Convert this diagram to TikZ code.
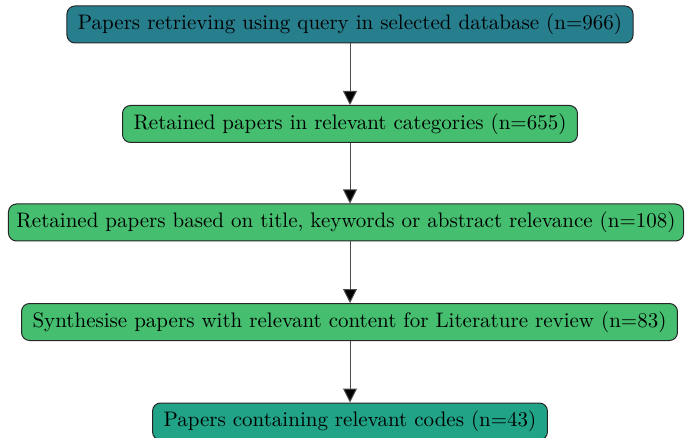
\documentclass[tikz,border=0pt]{standalone}
\usetikzlibrary{arrows.meta}
\definecolor{cteal}{HTML}{277F8E}
\definecolor{cgreen}{HTML}{45BF6F}
\definecolor{cjade}{HTML}{20A386}
\tikzset{
  box/.style={draw=black!85, line width=0.5pt, rounded corners=4pt, minimum height=18.5pt, inner xsep=5.5pt, font=\fontsize{10.5}{12}\selectfont},
  conn/.style={draw=black!70, line width=0.5pt, -{Triangle[width=7pt,length=7pt,fill=black]}},
}
\begin{document}
\begin{tikzpicture}[x=0.5pt,y=-0.5pt]
\useasboundingbox (0,0) rectangle (685,438);
\node[box, fill=cteal] (a) at (350,24.5) {Papers retrieving using query in selected database (n=966)};
\node[box, fill=cgreen] (b) at (350,124) {Retained papers in relevant categories (n=655)};
\node[box, fill=cgreen, inner xsep=4pt] (c) at (346,222.5) {Retained papers based on title, keywords or abstract relevance (n=108)};
\node[box, fill=cgreen] (d) at (349.5,322) {Synthesise papers with relevant content for Literature review (n=83)};
\node[box, fill=cjade] (e) at (350,421.5) {Papers containing relevant codes (n=43)};
\draw[conn] (a) -- (b);
\draw[conn] (b) -- (c.north -| b);
\draw[conn] (c.south -| b) -- (d.north -| b);
\draw[conn] (d.south -| b) -- (e);
\end{tikzpicture}
\end{document}
